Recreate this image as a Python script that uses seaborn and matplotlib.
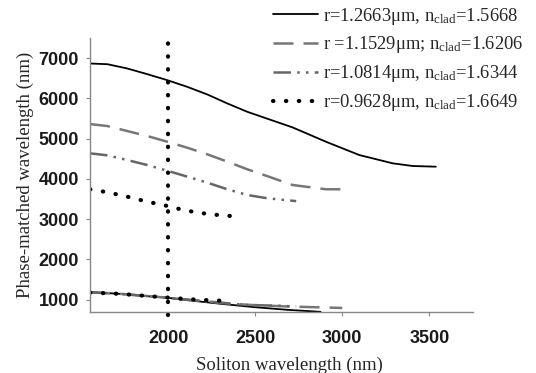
import matplotlib
matplotlib.use("Agg")
import matplotlib.pyplot as plt
import seaborn as sns

sns.set_style("white")
plt.rcParams['font.family'] = ['Liberation Sans', 'DejaVu Sans']
plt.rcParams['mathtext.fontset'] = 'custom'
plt.rcParams['mathtext.rm'] = 'Liberation Serif'
plt.rcParams['mathtext.it'] = 'Liberation Serif:italic'

labels = [
    r"r=1.2663μm, n$_{\mathrm{clad}}$=1.5668",
    r"r =1.1529μm; n$_{\mathrm{clad}}$=1.6206",
    r"r=1.0814μm, n$_{\mathrm{clad}}$=1.6344",
    r"r=0.9628μm, n$_{\mathrm{clad}}$=1.6649",
]

# upper branches
x_up1 = [1550, 1650, 1764, 1879, 1994, 2109, 2224, 2339, 2454, 2540, 2714, 2906, 3098, 3289, 3404, 3538]
y_up1 = [6868, 6850, 6744, 6603, 6454, 6288, 6099, 5876, 5668, 5540, 5281, 4925, 4594, 4389, 4322, 4305]
x_up2 = [1550, 1650, 1764, 1879, 1994, 2109, 2224, 2339, 2454, 2569, 2714, 2906, 3000]
y_up2 = [5363, 5314, 5190, 5066, 4925, 4776, 4612, 4430, 4240, 4070, 3850, 3744, 3744]
x_up3 = [1550, 1650, 1764, 1879, 1994, 2109, 2224, 2339, 2454, 2569, 2735]
y_up3 = [4636, 4587, 4470, 4346, 4205, 4057, 3908, 3744, 3602, 3520, 3450]
x_up4 = [1550, 1650, 1764, 1879, 1977, 2069, 2167, 2264, 2356]
y_up4 = [3744, 3669, 3560, 3436, 3347, 3248, 3164, 3114, 3082]

# lower branches
x_lo1 = [1550, 1724, 1918, 1994, 2109, 2300, 2493, 2684, 2875]
y_lo1 = [1190, 1146, 1075, 1050, 990, 900, 817, 750, 700]
x_lo2 = [1550, 1724, 1918, 2109, 2300, 2454, 2684, 2971, 3000]
y_lo2 = [1185, 1146, 1078, 1005, 930, 875, 833, 800, 795]
x_lo3 = [1550, 1724, 1918, 2109, 2300, 2454, 2644, 2735]
y_lo3 = [1185, 1146, 1078, 1000, 920, 870, 850, 830]
x_lo4 = [1550, 1724, 1918, 1994, 2109, 2263, 2356]
y_lo4 = [1179, 1146, 1080, 1055, 1016, 981, 973]

x_marker = [2000, 2000]
y_marker = [620, 7500]

fig = plt.figure(figsize=(5.36, 3.73), dpi=100)
ax = fig.add_axes([0.168, 0.164, 0.714, 0.734])

dot_style = dict(color="black", linestyle=(0, (0.1, 3.0)), linewidth=3.0,
                 dash_capstyle="round")
styles = [
    dict(color="black", linestyle="-", linewidth=1.3),
    dict(color="#777777", linestyle=(0, (8, 4)), linewidth=1.8),
    dict(color="#666666", linestyle=(0, (7, 2.5, 1, 2.5, 1, 2.5)), linewidth=1.8),
    dot_style,
]
ups = [(x_up1, y_up1), (x_up2, y_up2), (x_up3, y_up3), (x_up4, y_up4)]
los = [(x_lo1, y_lo1), (x_lo2, y_lo2), (x_lo3, y_lo3), (x_lo4, y_lo4)]

for (xu, yu), (xl, yl), st, lab in zip(ups, los, styles, labels):
    sns.lineplot(x=xu, y=yu, ax=ax, sort=False, estimator=None, label=lab, **st)
    sns.lineplot(x=xl, y=yl, ax=ax, sort=False, estimator=None, **st)

sns.lineplot(x=x_marker, y=y_marker, ax=ax, sort=False, estimator=None,
             clip_on=False, **dot_style)

ax.set_xlim(1550, 3750)
ax.set_ylim(700, 7500)
ax.set_xticks([2000, 2500, 3000, 3500])
ax.set_yticks([1000, 2000, 3000, 4000, 5000, 6000, 7000])
for lbl in ax.get_xticklabels() + ax.get_yticklabels():
    lbl.set_fontsize(13)
    lbl.set_fontweight("bold")
    lbl.set_color("#1a1a1a")
ax.tick_params(axis="both", length=3, width=0.8, color="#888888", direction="out",
               bottom=True, left=True, pad=5)
ax.tick_params(axis="x", pad=10)
for s in ["top", "right"]:
    ax.spines[s].set_visible(False)
for s in ["left", "bottom"]:
    ax.spines[s].set_color("#888888")
    ax.spines[s].set_linewidth(1.0)

ax.set_xlabel("Soliton wavelength (nm)", family="Liberation Serif", fontsize=13.5, labelpad=7)
ax.xaxis.set_label_coords(0.52, -0.165)
ax.set_ylabel("Phase-matched wavelength (nm)", family="Liberation Serif", fontsize=13.5, labelpad=3)

leg = ax.legend(loc="upper left", bbox_to_anchor=(0.477, 1.118), frameon=False,
                prop={"family": "Liberation Serif", "size": 13.3},
                handlelength=2.45, labelspacing=0.42, handletextpad=0.3,
                borderaxespad=0.0, borderpad=0.0)

fig.savefig("out.png", dpi=100, facecolor="white")
